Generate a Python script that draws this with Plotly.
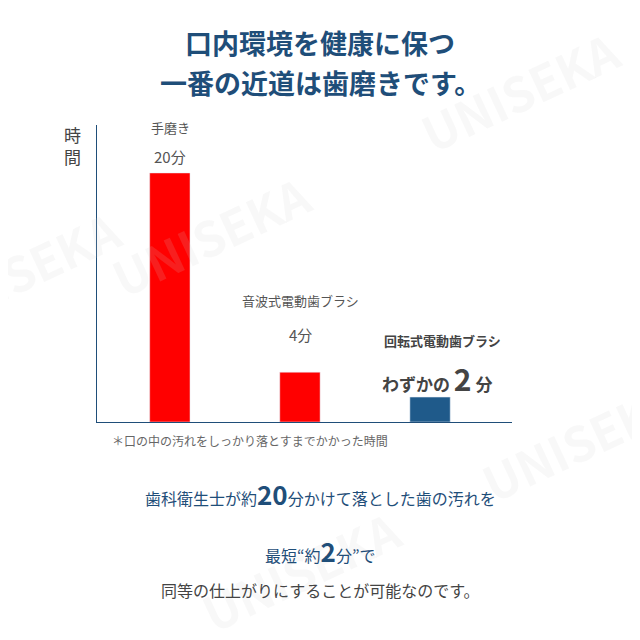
import plotly.graph_objects as go

categories = ["手磨き", "音波式電動歯ブラシ", "回転式電動歯ブラシ"]
minutes = [20, 4, 2]
colors = ["#ff0000", "#ff0000", "#1f5a8a"]
xpos = [0, 1, 2]

F = "Noto Sans CJK JP"
BLUE = "#1f4e79"
OFF = 8  # page body margin

fig = go.Figure(go.Bar(x=xpos, y=minutes, marker_color=colors, width=0.31))

L, R, T, B = 97 - OFF, 512 - OFF, 125 - OFF, 422 - OFF
def px(x): return (x - OFF - L) / (R - L)
def py(y): return (B - (y - OFF)) / (B - T)

ann = []
def a(x, y, text, size, color="#555", bold=False, **kw):
    ann.append(dict(x=px(x), y=py(y), xref="paper", yref="paper", xanchor="center", yanchor="middle",
                    text=f"<b>{text}</b>" if bold else text,
                    showarrow=False, font=dict(family=F, size=size, color=color), **kw))

# watermark
for (x, y) in [(520, 90), (210, 235), (580, 440), (300, 570), (20, 270)]:
    a(x, y, "UNISEKA", 48, "rgba(210,210,210,0.15)", True, textangle=-25)

a(320, 42, "口内環境を健康に保つ", 27, BLUE, True)
a(320, 82, "一番の近道は歯磨きです。", 27, BLUE, True)
a(72, 145, "時<br>間", 17, "#444")
a(170, 128, "手磨き", 13)
a(170, 156, "20分", 15)
a(300, 300, "音波式電動歯ブラシ", 13)
a(300, 334, "4分", 15)
a(442, 340, "回転式電動歯ブラシ", 13, "#444", True)
a(437, 378, "わずかの <span style='font-size:30px'>2</span> 分", 17, "#444", True)
a(250, 440, "＊口の中の汚れをしっかり落とすまでかかった時間", 12, "#666")
a(320, 493, "歯科衛生士が約<b><span style='font-size:26px'>20</span></b>分かけて落とした歯の汚れを", 16, BLUE)
a(320, 550, "最短“約<b><span style='font-size:26px'>2</span></b>分”で", 16, BLUE)
a(320, 590, "同等の仕上がりにすることが可能なのです。", 16, "#444")

fig.update_layout(
    width=640, height=640, plot_bgcolor="white", paper_bgcolor="white",
    margin=dict(l=L, r=640 - R, t=T, b=640 - B),
    showlegend=False, annotations=ann,
    xaxis=dict(range=[-0.56, 2.63], showticklabels=False, showgrid=False, zeroline=False,
               showline=True, linecolor="#1f4e79", linewidth=1, fixedrange=True),
    yaxis=dict(range=[0, 23.85], showticklabels=False, showgrid=False, zeroline=False,
               showline=True, linecolor="#1f4e79", linewidth=1),
)
fig.write_html("out.html")
